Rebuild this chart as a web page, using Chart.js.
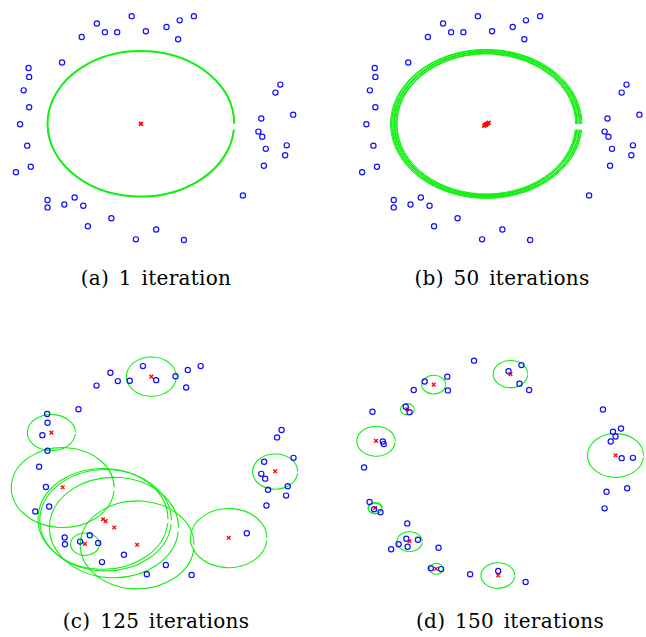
<!DOCTYPE html>
<html>
<head>
<meta charset="utf-8">
<script src="https://cdn.jsdelivr.net/npm/chart.js@4.4.0/dist/chart.umd.min.js"></script>
<style>
  html, body { margin:0; padding:0; background:#fff; }
  #wrap { position:relative; width:646px; height:637px; background:#fff; overflow:hidden; }
  canvas { position:absolute; }
  .cap { position:absolute; font-family:"DejaVu Serif", serif; font-size:20px; line-height:20px; white-space:nowrap; color:#000; transform:translateX(-50%); word-spacing:3px; letter-spacing:0.3px; }
</style>
</head>
<body>
<div id="wrap">
  <canvas id="pa" width="323" height="260" style="left:0;top:0"></canvas>
  <canvas id="pb" width="323" height="260" style="left:323px;top:0"></canvas>
  <canvas id="pc" width="323" height="260" style="left:0;top:340px"></canvas>
  <canvas id="pd" width="323" height="260" style="left:323px;top:340px"></canvas>
  <div class="cap" id="capA" style="left:156px;top:268px"></div>
  <div class="cap" id="capB" style="left:502px;top:268px"></div>
  <div class="cap" id="capC" style="left:156px;top:611px"></div>
  <div class="cap" id="capD" style="left:510px;top:611px"></div>
</div>
<script>
// ---------- data (plot units) ----------
const captions = ["(a) 1 iteration", "(b) 50 iterations", "(c) 125 iterations", "(d) 150 iterations"];

// points shown in panels (a) and (b)
const pointsAB = [[392,34],[284,57],[309,84],[347,84],[237,99],[436,81],[500,68],[541,47],[585,34],[536,106],
  [176,179],[72,196],[74,224],[57,266],[74,319],[46,372],[68,439],[79,505],[33,522],[131,609],
  [131,632],[183,623],[215,601],[242,627],[329,666],[256,691],[405,732],[468,701],[554,734],[737,595],
  [853,248],[838,273],[893,342],[794,354],[785,395],[797,411],[873,438],[808,449],[868,469],[802,502]];

const centersA = [[420,370],[421,371]];
const ellipsesA = [[420.5,370.5,289.5,227.5]];

const centersB = [[411,377],[414,375],[417,373],[420,371],[423,369],[426,367],[418,372],[415,374]];
const ellipsesB = [[418,371,297,233],[418,371,294,231],[417,370,292,230],[418,372,290,228],[419,371,288,227],
  [418,370,285,225],[417,371,283,224],[418,372,281,222],[419,371,279,221],[418,371,277,219]];

const pointsC = [[427,65],[566,77],[606,65],[326,86],[349,112],[386,111],[468,109],[528,97],[561,132],[283,126],
  [227,200],[130,215],[131,242],[115,281],[131,330],[105,380],[126,443],[136,504],[93,520],[184,601],
  [185,622],[232,614],[262,594],[288,618],[368,655],[300,678],[439,716],[498,687],[578,718],[749,588],
  [857,265],[843,288],[894,352],[803,364],[794,402],[806,417],[876,441],[815,452],[871,470],[810,501]];
const centersC = [[453,98],[143,273],[178,444],[303,544],[311,550],[338,570],[409,624],[247,621],[693,602],[837,394]];
const ellipsesC = [[453,98,77.5,61.5],[143,273,74.5,56.5],[178,445,159.5,125],[303,543,201.5,157.5],
  [311,547,204,158.5],[337,570,200,157],[409,624,176.5,137.5],[247,622,44.5,35],[693,603,118.5,92.5],[837,395,70,55]];

const pointsD = [[452,48],[599,62],[559,81],[593,120],[623,140],[369,98],[299,113],[371,141],[265,140],[240,192],
  [252,209],[137,208],[169,301],[172,309],[111,382],[128,490],[142,513],[162,522],[245,557],[242,605],
  [278,608],[218,622],[246,630],[195,638],[342,633],[318,697],[350,700],[440,716],[527,706],[612,740],
  [852,201],[908,260],[883,270],[891,285],[876,301],[910,353],[945,352],[927,447],[863,458],[857,510]];
const centersD = [[565,90],[327,123],[245,200],[148,299],[891,344],[145,509],[252,613],[334,699],[527,720]];
const ellipsesD = [[565,90,53.5,42.5],[327,123,37,29.5],[245,200,21.5,17.5],[148,300,59.5,47],[891,344.5,87,68.5],
  [145,509,22,17.5],[145,510,21,16.5],[252,614,39.5,31],[335,699,21,17],[526,720,52.5,40]];

// ---------- drawing ----------
const ellipsePlugin = {
  id: 'ellipses',
  beforeDatasetsDraw(chart, args, opts) {
    const list = opts.list || [];
    const xs = chart.scales.x, ys = chart.scales.y, ctx = chart.ctx;
    ctx.save();
    ctx.strokeStyle = opts.color;
    ctx.lineWidth = opts.width;
    list.forEach(e => {
      const cx = xs.getPixelForValue(e[0]), cy = ys.getPixelForValue(e[1]);
      const rx = Math.abs(xs.getPixelForValue(e[0] + e[2]) - cx);
      const ry = Math.abs(ys.getPixelForValue(e[1] + e[3]) - cy);
      ctx.beginPath();
      ctx.ellipse(cx, cy, rx, ry, 0, opts.gap, Math.PI * 2);
      ctx.stroke();
    });
    ctx.restore();
  }
};

function toXY(arr) { return arr.map(p => ({x: p[0], y: p[1]})); }

function panel(id, xmin, points, centers, ellipses, lw) {
  new Chart(document.getElementById(id), {
    type: 'scatter',
    data: {
      datasets: [
        { data: toXY(points), pointStyle: 'circle', pointRadius: 2.6, pointBorderWidth: 1.2,
          borderColor: '#1010ff', backgroundColor: 'rgba(0,0,0,0)', pointBackgroundColor: 'rgba(0,0,0,0)', clip: false },
        { data: toXY(centers), pointStyle: 'crossRot', pointRadius: 2.6, pointBorderWidth: 1.3,
          borderColor: '#ff0000', backgroundColor: '#ff0000', clip: false }
      ]
    },
    options: {
      responsive: false, animation: false, devicePixelRatio: 1,
      layout: { padding: 0 },
      events: [],
      scales: {
        x: { type: 'linear', display: false, min: xmin, max: xmin + 969 },
        y: { type: 'linear', display: false, min: 0, max: 780, reverse: true }
      },
      plugins: {
        legend: { display: false }, tooltip: { enabled: false },
        ellipses: { list: ellipses, color: '#11ee11', width: lw, gap: 0.08 }
      }
    },
    plugins: [ellipsePlugin]
  });
}

panel('pa', 0, pointsAB, centersA, ellipsesA, 2);
panel('pb', -72, pointsAB, centersB, ellipsesB, 1.0);
panel('pc', 0, pointsC, centersC, ellipsesC, 1.1);
panel('pd', 0, pointsD, centersD, ellipsesD, 1.1);

['capA','capB','capC','capD'].forEach((id, i) => { document.getElementById(id).textContent = captions[i]; });
</script>
</body>
</html>
